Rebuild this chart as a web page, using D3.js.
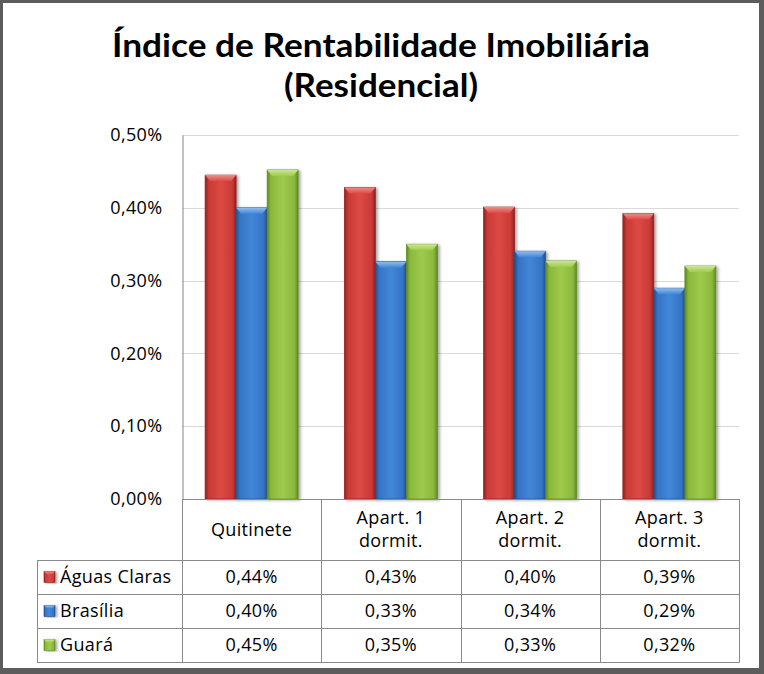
<!DOCTYPE html>
<html><head><meta charset="utf-8">
<script src="https://cdn.jsdelivr.net/npm/d3@7"></script>
<style>body{margin:0;background:#fff} svg{display:block}</style>
</head><body>
<script>
// ---- data ----
const categories = ["Quitinete", "Apart. 1 dormit.", "Apart. 2 dormit.", "Apart. 3 dormit."];
const categoryLines = [["Quitinete"], ["Apart. 1", "dormit."], ["Apart. 2", "dormit."], ["Apart. 3", "dormit."]];
const seriesNames = ["Águas Claras", "Brasília", "Guará"];
const aguasClaras = [0.4449, 0.428, 0.401, 0.392];
const brasilia = [0.400, 0.326, 0.3404, 0.2896];
const guara = [0.452, 0.350, 0.327, 0.320];
const yTicks = [0, 0.1, 0.2, 0.3, 0.4, 0.5];
const titleLines = ["Índice de Rentabilidade Imobiliária", "(Residencial)"];

// ---- styles ----
const seriesColors = [
  {dark: "#8f2220", mid: "#c93a36", light: "#dc4a45", top: "#ec8d89"},
  {dark: "#22508f", mid: "#3673c3", light: "#4287d8", top: "#93bdef"},
  {dark: "#5f8a22", mid: "#8ab83c", light: "#9fcb4c", top: "#cde597"}
];
const W = 764, H = 674;
const plotL = 182, plotR = 739, plotT = 135, plotB = 499;
const rowLines = [560, 594, 628, 662];
const legendL = 37;
const FONT = "'Open Sans', 'DejaVu Sans', sans-serif";
const FS = 18;
const LS = 0.35;

const series = [aguasClaras, brasilia, guara];
const locale = d3.formatLocale({decimal: ",", thousands: ".", grouping: [3], currency: ["R$", ""]});
const fmt = locale.format(".2f");

const svg = d3.select("body").append("svg").attr("width", W).attr("height", H);
const defs = svg.append("defs");

// gradients
seriesColors.forEach((c, i) => {
  const g = defs.append("linearGradient").attr("id", "bar" + i).attr("x1", 0).attr("x2", 1).attr("y1", 0).attr("y2", 0);
  [[0, c.dark], [0.12, c.mid], [0.5, c.light], [0.88, c.mid], [1, c.dark]].forEach(s =>
    g.append("stop").attr("offset", s[0]).attr("stop-color", s[1]));
  const t = defs.append("linearGradient").attr("id", "top" + i).attr("x1", 0).attr("x2", 0).attr("y1", 0).attr("y2", 1);
  t.append("stop").attr("offset", 0).attr("stop-color", c.top);
  t.append("stop").attr("offset", 1).attr("stop-color", c.light);
});
const f = defs.append("filter").attr("id", "shadow").attr("x", "-20%").attr("y", "-5%").attr("width", "150%").attr("height", "115%");
f.append("feDropShadow").attr("dx", 2).attr("dy", 1).attr("stdDeviation", 1.5).attr("flood-color", "#000").attr("flood-opacity", 0.35);

// frame
svg.append("rect").attr("x", 0).attr("y", 0).attr("width", W).attr("height", H).attr("fill", "#5c5c5c");
svg.append("rect").attr("x", 3).attr("y", 3).attr("width", 756).attr("height", 665).attr("fill", "#fff");

// title
svg.append("g").selectAll("text").data(titleLines).join("text")
  .attr("x", 381).attr("y", (d, i) => 57 + i * 40)
  .attr("text-anchor", "middle")
  .attr("font-family", "Lato, 'Open Sans', sans-serif").attr("font-weight", "bold")
  .attr("font-size", 32).attr("fill", "#000")
  .attr("textLength", (d, i) => i === 0 ? 538 : 194).attr("lengthAdjust", "spacingAndGlyphs")
  .text(d => d);

// scales
const y = d3.scaleLinear().domain([0, 0.5]).range([plotB, plotT]);
const x0 = d3.scaleBand().domain(categories).range([plotL, plotR]).padding(0);
const x1 = d3.scaleBand().domain(seriesNames).range([0, x0.bandwidth()]).paddingInner(0).paddingOuter(0.745);

// gridlines
svg.append("g").selectAll("line").data(yTicks.slice(1)).join("line")
  .attr("x1", plotL).attr("x2", plotR).attr("y1", d => Math.round(y(d)) + 0.5).attr("y2", d => Math.round(y(d)) + 0.5)
  .attr("stroke", "#d9d9d9").attr("stroke-width", 1);

// y axis
const yAxis = d3.axisLeft(y).tickValues(yTicks).tickSize(0).tickPadding(20).tickFormat(d => fmt(d) + "%");
const ya = svg.append("g").attr("transform", `translate(${plotL + 0.5},0)`).call(yAxis);
ya.select(".domain").attr("stroke", "#868686");
ya.selectAll("text").attr("font-family", FONT).attr("font-size", FS).attr("letter-spacing", LS).attr("fill", "#000");

// bars
const bars = svg.append("g");
categories.forEach((cat, ci) => {
  series.forEach((vals, si) => {
    const v = vals[ci];
    const bx = x0(cat) + x1(seriesNames[si]);
    const bw = x1.bandwidth();
    const by = y(v);
    const bh = plotB - by;
    const g = bars.append("g").attr("filter", "url(#shadow)");
    g.append("rect").attr("x", bx).attr("y", by).attr("width", bw).attr("height", bh)
      .attr("fill", `url(#bar${si})`).attr("stroke", seriesColors[si].dark).attr("stroke-width", 0.7);
    const bev = 6, ins = 5;
    g.append("path")
      .attr("d", `M${bx},${by}L${bx + bw},${by}L${bx + bw - ins},${by + bev}L${bx + ins},${by + bev}Z`)
      .attr("fill", `url(#top${si})`);
  });
});

// table
const tbl = svg.append("g").attr("stroke", "#8a8a8a").attr("stroke-width", 1).attr("fill", "none");
tbl.append("line").attr("x1", plotL).attr("x2", plotR + 0.5).attr("y1", plotB + 0.5).attr("y2", plotB + 0.5);
const colEdges = categories.map(c => x0(c)).concat([plotR]);
colEdges.forEach(cx => {
  tbl.append("line").attr("x1", Math.round(cx) + 0.5).attr("x2", Math.round(cx) + 0.5)
    .attr("y1", plotB).attr("y2", rowLines[rowLines.length - 1] + 0.5);
});
rowLines.forEach(ry => {
  tbl.append("line").attr("x1", legendL).attr("x2", plotR + 0.5).attr("y1", ry + 0.5).attr("y2", ry + 0.5);
});
tbl.append("line").attr("x1", legendL + 0.5).attr("x2", legendL + 0.5).attr("y1", rowLines[0]).attr("y2", rowLines[rowLines.length - 1] + 0.5);

// header labels
const hdr = svg.append("g").attr("font-family", FONT).attr("font-size", FS).attr("letter-spacing", LS).attr("fill", "#000").attr("text-anchor", "middle");
categories.forEach((cat, ci) => {
  const lines = categoryLines[ci];
  const cx = x0(cat) + x0.bandwidth() / 2;
  const mid = (plotB + rowLines[0]) / 2;
  lines.forEach((ln, li) => {
    hdr.append("text").attr("x", cx).attr("y", mid + (li - (lines.length - 1) / 2) * 23).attr("dy", "0.35em").text(ln);
  });
});

// rows
seriesNames.forEach((name, si) => {
  const cy = (rowLines[si] + rowLines[si + 1]) / 2;
  const mg = svg.append("g").attr("filter", "url(#shadow)");
  mg.append("rect").attr("x", 44).attr("y", cy - 5.5).attr("width", 11).attr("height", 11)
    .attr("fill", `url(#bar${si})`).attr("stroke", seriesColors[si].dark).attr("stroke-width", 0.6);
  mg.append("path").attr("d", `M44,${cy - 5.5}L55,${cy - 5.5}L52,${cy - 2.5}L47,${cy - 2.5}Z`).attr("fill", `url(#top${si})`);
  svg.append("text").attr("x", 60).attr("y", cy).attr("dy", "0.35em")
    .attr("font-family", FONT).attr("font-size", FS).attr("letter-spacing", LS).attr("fill", "#000").text(name);
  categories.forEach((cat, ci) => {
    svg.append("text").attr("x", x0(cat) + x0.bandwidth() / 2).attr("y", cy).attr("dy", "0.35em")
      .attr("text-anchor", "middle").attr("font-family", FONT).attr("font-size", FS).attr("letter-spacing", LS).attr("fill", "#000")
      .text(fmt(series[si][ci]) + "%");
  });
});
</script>
</body></html>
